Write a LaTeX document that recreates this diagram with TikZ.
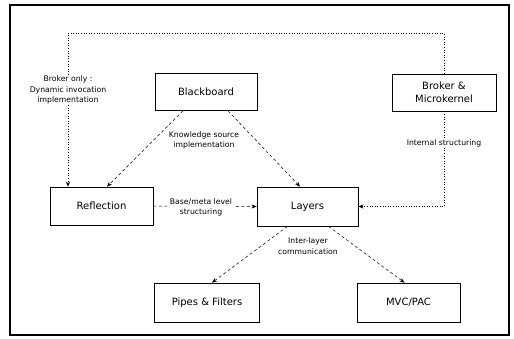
\documentclass[tikz,border=0pt]{standalone}
\usepackage{fontspec}
\setmainfont{DejaVu Sans}
\usetikzlibrary{arrows.meta}
\begin{document}
\begin{tikzpicture}[x=1pt,y=-1pt,
  box/.style={draw, line width=0.7pt, inner sep=0pt, minimum width=102pt, minimum height=37pt,
    font=\fontsize{10}{12.5}\selectfont, align=center},
  lbl/.style={font=\fontsize{7.7}{10.5}\selectfont, align=center, fill=white, inner sep=1pt},
  dsh/.style={draw, line width=0.5pt, dash pattern=on 3pt off 2.5pt, -{Stealth[length=5pt,width=4pt]}},
  dtt/.style={draw, line width=0.6pt, dotted, -{Stealth[length=5pt,width=4pt]}}]
\useasboundingbox (0,0) rectangle (514,339);
\draw[line width=1.8pt] (10,5) rectangle (509,335);

\node[box] (bb) at (206,92) {Blackboard};
\node[box, minimum width=104pt] (bm) at (444,92.5) {Broker \&\\Microkernel};
\node[box, minimum width=103pt, minimum height=38pt] (refl) at (101.5,206) {Reflection};
\node[box, minimum width=101pt, minimum height=39pt] (lay) at (307.5,206.5) {Layers};
\node[box, minimum width=105pt, minimum height=39pt] (pf) at (207,302.5) {Pipes \& Filters};
\node[box, minimum width=103pt, minimum height=39pt] (mvc) at (408.5,302.5) {MVC/PAC};

\coordinate (tl) at (68,33);
\draw[dtt] (bm.north) |- (tl) -- (tl |- refl.north);
\node[lbl] (l1) at (68,90) {Broker only :\\Dynamic invocation\\implementation};

\draw[dsh] ([xshift=-23pt]bb.south) -- ([xshift=5.5pt]refl.north);
\draw[dsh] ([xshift=22pt]bb.south) -- ([xshift=-7.5pt]lay.north);
\node[lbl] (l2) at (204,140.5) {Knowledge source\\implementation};

\draw[dtt] (bm.south) |- (lay.east);
\node[lbl] (l3) at (444,143) {Internal structuring};

\draw[dsh] (refl.east) -- (lay.west);
\node[lbl] (l4) at (201,207.5) {Base/meta level\\structuring};

\draw[dsh] ([xshift=-20pt]lay.south) -- ([xshift=5pt]pf.north);
\draw[dsh] ([xshift=21pt]lay.south) -- ([xshift=-4pt]mvc.north);
\node[lbl] (l5) at (308,246) {Inter-layer\\communication};
\end{tikzpicture}
\end{document}
